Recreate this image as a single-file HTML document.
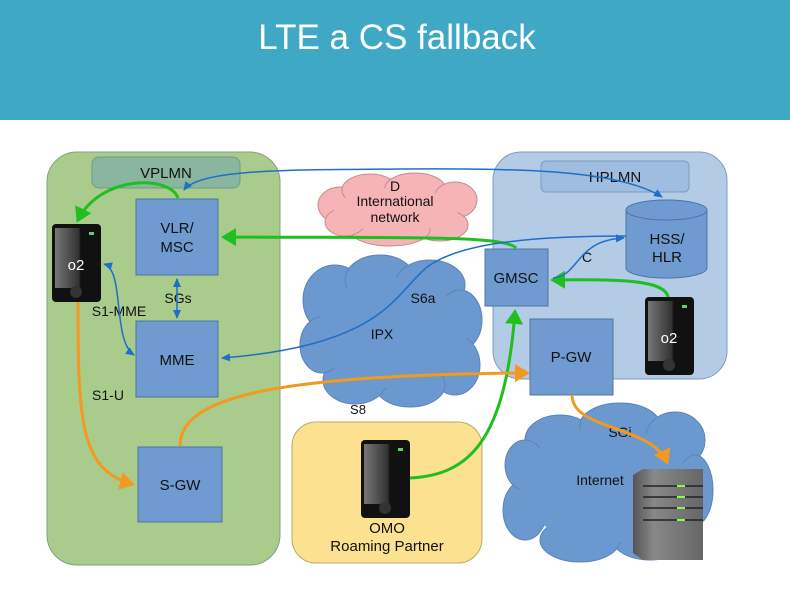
<!DOCTYPE html>
<html><head><meta charset="utf-8"><style>
html,body{margin:0;padding:0;background:#fff}
svg{display:block}
text{font-family:"Liberation Sans",sans-serif}
</style></head><body>
<svg width="790" height="592" viewBox="0 0 790 592" xmlns="http://www.w3.org/2000/svg">
<defs>
<linearGradient id="ph" x1="0" x2="1" y1="0" y2="0"><stop offset="0" stop-color="#777"/><stop offset="0.55" stop-color="#333"/><stop offset="0.6" stop-color="#111"/><stop offset="1" stop-color="#111"/></linearGradient>
<linearGradient id="sv" x1="0" x2="1"><stop offset="0" stop-color="#555"/><stop offset="0.3" stop-color="#888"/><stop offset="1" stop-color="#666"/></linearGradient>
<marker id="ag" markerWidth="6" markerHeight="6" refX="4" refY="3" orient="auto" markerUnits="strokeWidth"><path d="M0,0 L5,3 L0,6z" fill="#1fbf1f"/></marker>
<marker id="ab" markerWidth="10" markerHeight="10" refX="8" refY="5" orient="auto" markerUnits="userSpaceOnUse"><path d="M0,1 L9,5 L0,9z" fill="#1d6fc8"/></marker>
<marker id="abs" markerWidth="10" markerHeight="10" refX="1" refY="5" orient="auto" markerUnits="userSpaceOnUse"><path d="M9,1 L0,5 L9,9z" fill="#1d6fc8"/></marker>
<marker id="ao" markerWidth="6" markerHeight="6" refX="4" refY="3" orient="auto" markerUnits="strokeWidth"><path d="M0,0 L5,3 L0,6z" fill="#f29a1f"/></marker>
<g id="phone"><rect x="0" y="0" width="49" height="78" rx="4" fill="#111"/><rect x="3" y="4" width="43" height="60" fill="url(#ph)"/><circle cx="24" cy="68" r="6" fill="#333"/><rect x="37" y="8" width="5" height="3" fill="#6c6"/></g>
</defs>
<rect x="0" y="0" width="790" height="120" fill="#3fa8c4"/>
<text x="397" y="49" font-size="35" fill="#fff" text-anchor="middle">LTE a CS fallback</text>

<!-- panels -->
<rect x="47" y="152" width="233" height="413" rx="30" fill="#a9cc8c" stroke="#7fa37a"/>
<rect x="92" y="157" width="148" height="31" rx="7" fill="#8ab59e" stroke="#6f9a8a"/>
<text x="166" y="178" font-size="15" fill="#111" text-anchor="middle">VPLMN</text>
<rect x="493" y="152" width="234" height="227" rx="28" fill="#b4cbe6" stroke="#7e9cc0"/>
<rect x="541" y="161" width="148" height="31" rx="5" fill="#9fbde0" stroke="#7e9cc0"/>
<text x="615" y="182" font-size="15" fill="#111" text-anchor="middle">HPLMN</text>
<rect x="292" y="422" width="190" height="141" rx="24" fill="#fbe190" stroke="#bba866"/>

<!-- clouds -->
<g fill="#f6b4b6" stroke="#c58a8c">
<ellipse cx="340" cy="205" rx="22" ry="18"/><ellipse cx="370" cy="190" rx="28" ry="16"/><ellipse cx="415" cy="188" rx="30" ry="15"/><ellipse cx="455" cy="200" rx="22" ry="18"/><ellipse cx="440" cy="225" rx="28" ry="16"/><ellipse cx="390" cy="230" rx="40" ry="16"/><ellipse cx="345" cy="222" rx="20" ry="14"/>
</g>
<ellipse cx="396" cy="210" rx="62" ry="22" fill="#f6b4b6"/>
<g fill="#6b98cf" stroke="#5a85bb">
<ellipse cx="335" cy="300" rx="32" ry="35"/><ellipse cx="380" cy="280" rx="35" ry="25"/><ellipse cx="430" cy="285" rx="35" ry="25"/><ellipse cx="460" cy="320" rx="22" ry="30"/><ellipse cx="455" cy="365" rx="25" ry="30"/><ellipse cx="410" cy="385" rx="35" ry="22"/><ellipse cx="355" cy="380" rx="32" ry="24"/><ellipse cx="322" cy="345" rx="22" ry="28"/>
<ellipse cx="560" cy="440" rx="35" ry="25"/><ellipse cx="620" cy="425" rx="40" ry="22"/><ellipse cx="675" cy="440" rx="30" ry="28"/><ellipse cx="695" cy="490" rx="18" ry="35"/><ellipse cx="650" cy="535" rx="40" ry="25"/><ellipse cx="580" cy="540" rx="40" ry="22"/><ellipse cx="525" cy="510" rx="22" ry="30"/><ellipse cx="525" cy="465" rx="20" ry="25"/>
</g>
<ellipse cx="392" cy="333" rx="75" ry="55" fill="#6b98cf"/>
<ellipse cx="605" cy="485" rx="85" ry="58" fill="#6b98cf"/>

<!-- boxes -->
<g fill="#6f9bd1" stroke="#4d74a6">
<rect x="136" y="199" width="82" height="76"/>
<rect x="136" y="321" width="82" height="76"/>
<rect x="138" y="447" width="84" height="75"/>
<rect x="485" y="249" width="63" height="57"/>
<rect x="530" y="319" width="83" height="76"/>
<path d="M626,210 v58 a40,10 0 0 0 81,0 v-58" />
<ellipse cx="666.5" cy="210" rx="40.5" ry="10"/>
</g>
<g font-size="15" fill="#111" text-anchor="middle">
<text x="177" y="233">VLR/</text><text x="177" y="252">MSC</text>
<text x="177" y="365">MME</text>
<text x="180" y="490">S-GW</text>
<text x="516" y="283">GMSC</text>
<text x="571" y="362">P-GW</text>
<text x="667" y="244">HSS/</text><text x="667" y="262">HLR</text>
<text x="395" y="191" font-size="14">D</text>
<text x="395" y="206" font-size="14">International</text>
<text x="395" y="222" font-size="14">network</text>
<text x="382" y="339" font-size="14">IPX</text>
<text x="423" y="303" font-size="14">S6a</text>
<text x="178" y="303" font-size="14">SGs</text>
<text x="119" y="316" font-size="14">S1-MME</text>
<text x="108" y="400" font-size="14">S1-U</text>
<text x="358" y="414" font-size="13">S8</text>
<text x="620" y="437" font-size="14">SGi</text>
<text x="600" y="485" font-size="14">Internet</text>
<text x="587" y="262" font-size="14">C</text>
<text x="387" y="533" font-size="15">OMO</text>
<text x="387" y="551" font-size="15">Roaming Partner</text>
</g>

<!-- server -->
<path d="M633,475 L643,469 L703,469 L703,560 L643,560 L633,553z" fill="url(#sv)"/>
<g stroke="#222" stroke-width="1.5"><line x1="643" y1="486" x2="703" y2="486"/><line x1="643" y1="497" x2="703" y2="497"/><line x1="643" y1="508" x2="703" y2="508"/><line x1="643" y1="520" x2="703" y2="520"/></g>
<g fill="#8f4"><rect x="677" y="485" width="8" height="2"/><rect x="677" y="496" width="8" height="2"/><rect x="677" y="507" width="8" height="2"/><rect x="677" y="519" width="8" height="2"/></g>

<!-- phones -->
<use href="#phone" x="52" y="224"/><text x="76" y="270" font-size="15" fill="#fff" text-anchor="middle">o2</text>
<use href="#phone" x="645" y="297"/><text x="669" y="343" font-size="15" fill="#fff" text-anchor="middle">o2</text>
<use href="#phone" x="361" y="440"/>

<!-- connectors -->
<g fill="none">
<path d="M178,198 C170,175 100,175 78,220" stroke="#1fbf1f" stroke-width="3" marker-end="url(#ag)"/>
<path d="M516,248 C505,235 400,238 224,237" stroke="#1fbf1f" stroke-width="3" marker-end="url(#ag)"/>
<path d="M668,297 C665,280 620,279 553,280" stroke="#1fbf1f" stroke-width="3" marker-end="url(#ag)"/>
<path d="M410,478 C470,475 505,440 515,312" stroke="#1fbf1f" stroke-width="3" marker-end="url(#ag)"/>
<path d="M184,190 C200,168 300,170 400,169 C520,168 620,170 662,197" stroke="#1d6fc8" stroke-width="1.5" marker-end="url(#ab)" marker-start="url(#abs)"/>
<path d="M104,264 C125,270 112,340 134,355" stroke="#1d6fc8" stroke-width="1.5" marker-end="url(#ab)" marker-start="url(#abs)"/>
<path d="M177,279 L177,318" stroke="#1d6fc8" stroke-width="1.5" marker-end="url(#ab)" marker-start="url(#abs)"/>
<path d="M553,278 C580,276 575,240 624,238" stroke="#1d6fc8" stroke-width="1.5" marker-end="url(#ab)"/>
<path d="M626,236 C520,236 460,245 430,265 C395,290 390,345 222,358" stroke="#1d6fc8" stroke-width="1.5" marker-end="url(#ab)"/>
<path d="M78,302 C78,420 80,470 132,484" stroke="#f29a1f" stroke-width="3" marker-end="url(#ao)"/>
<path d="M180,446 C180,400 260,375 527,373" stroke="#f29a1f" stroke-width="3" marker-end="url(#ao)"/>
<path d="M572,395 C572,430 650,425 667,462" stroke="#f29a1f" stroke-width="3" marker-end="url(#ao)"/>
</g>
</svg>
</body></html>
